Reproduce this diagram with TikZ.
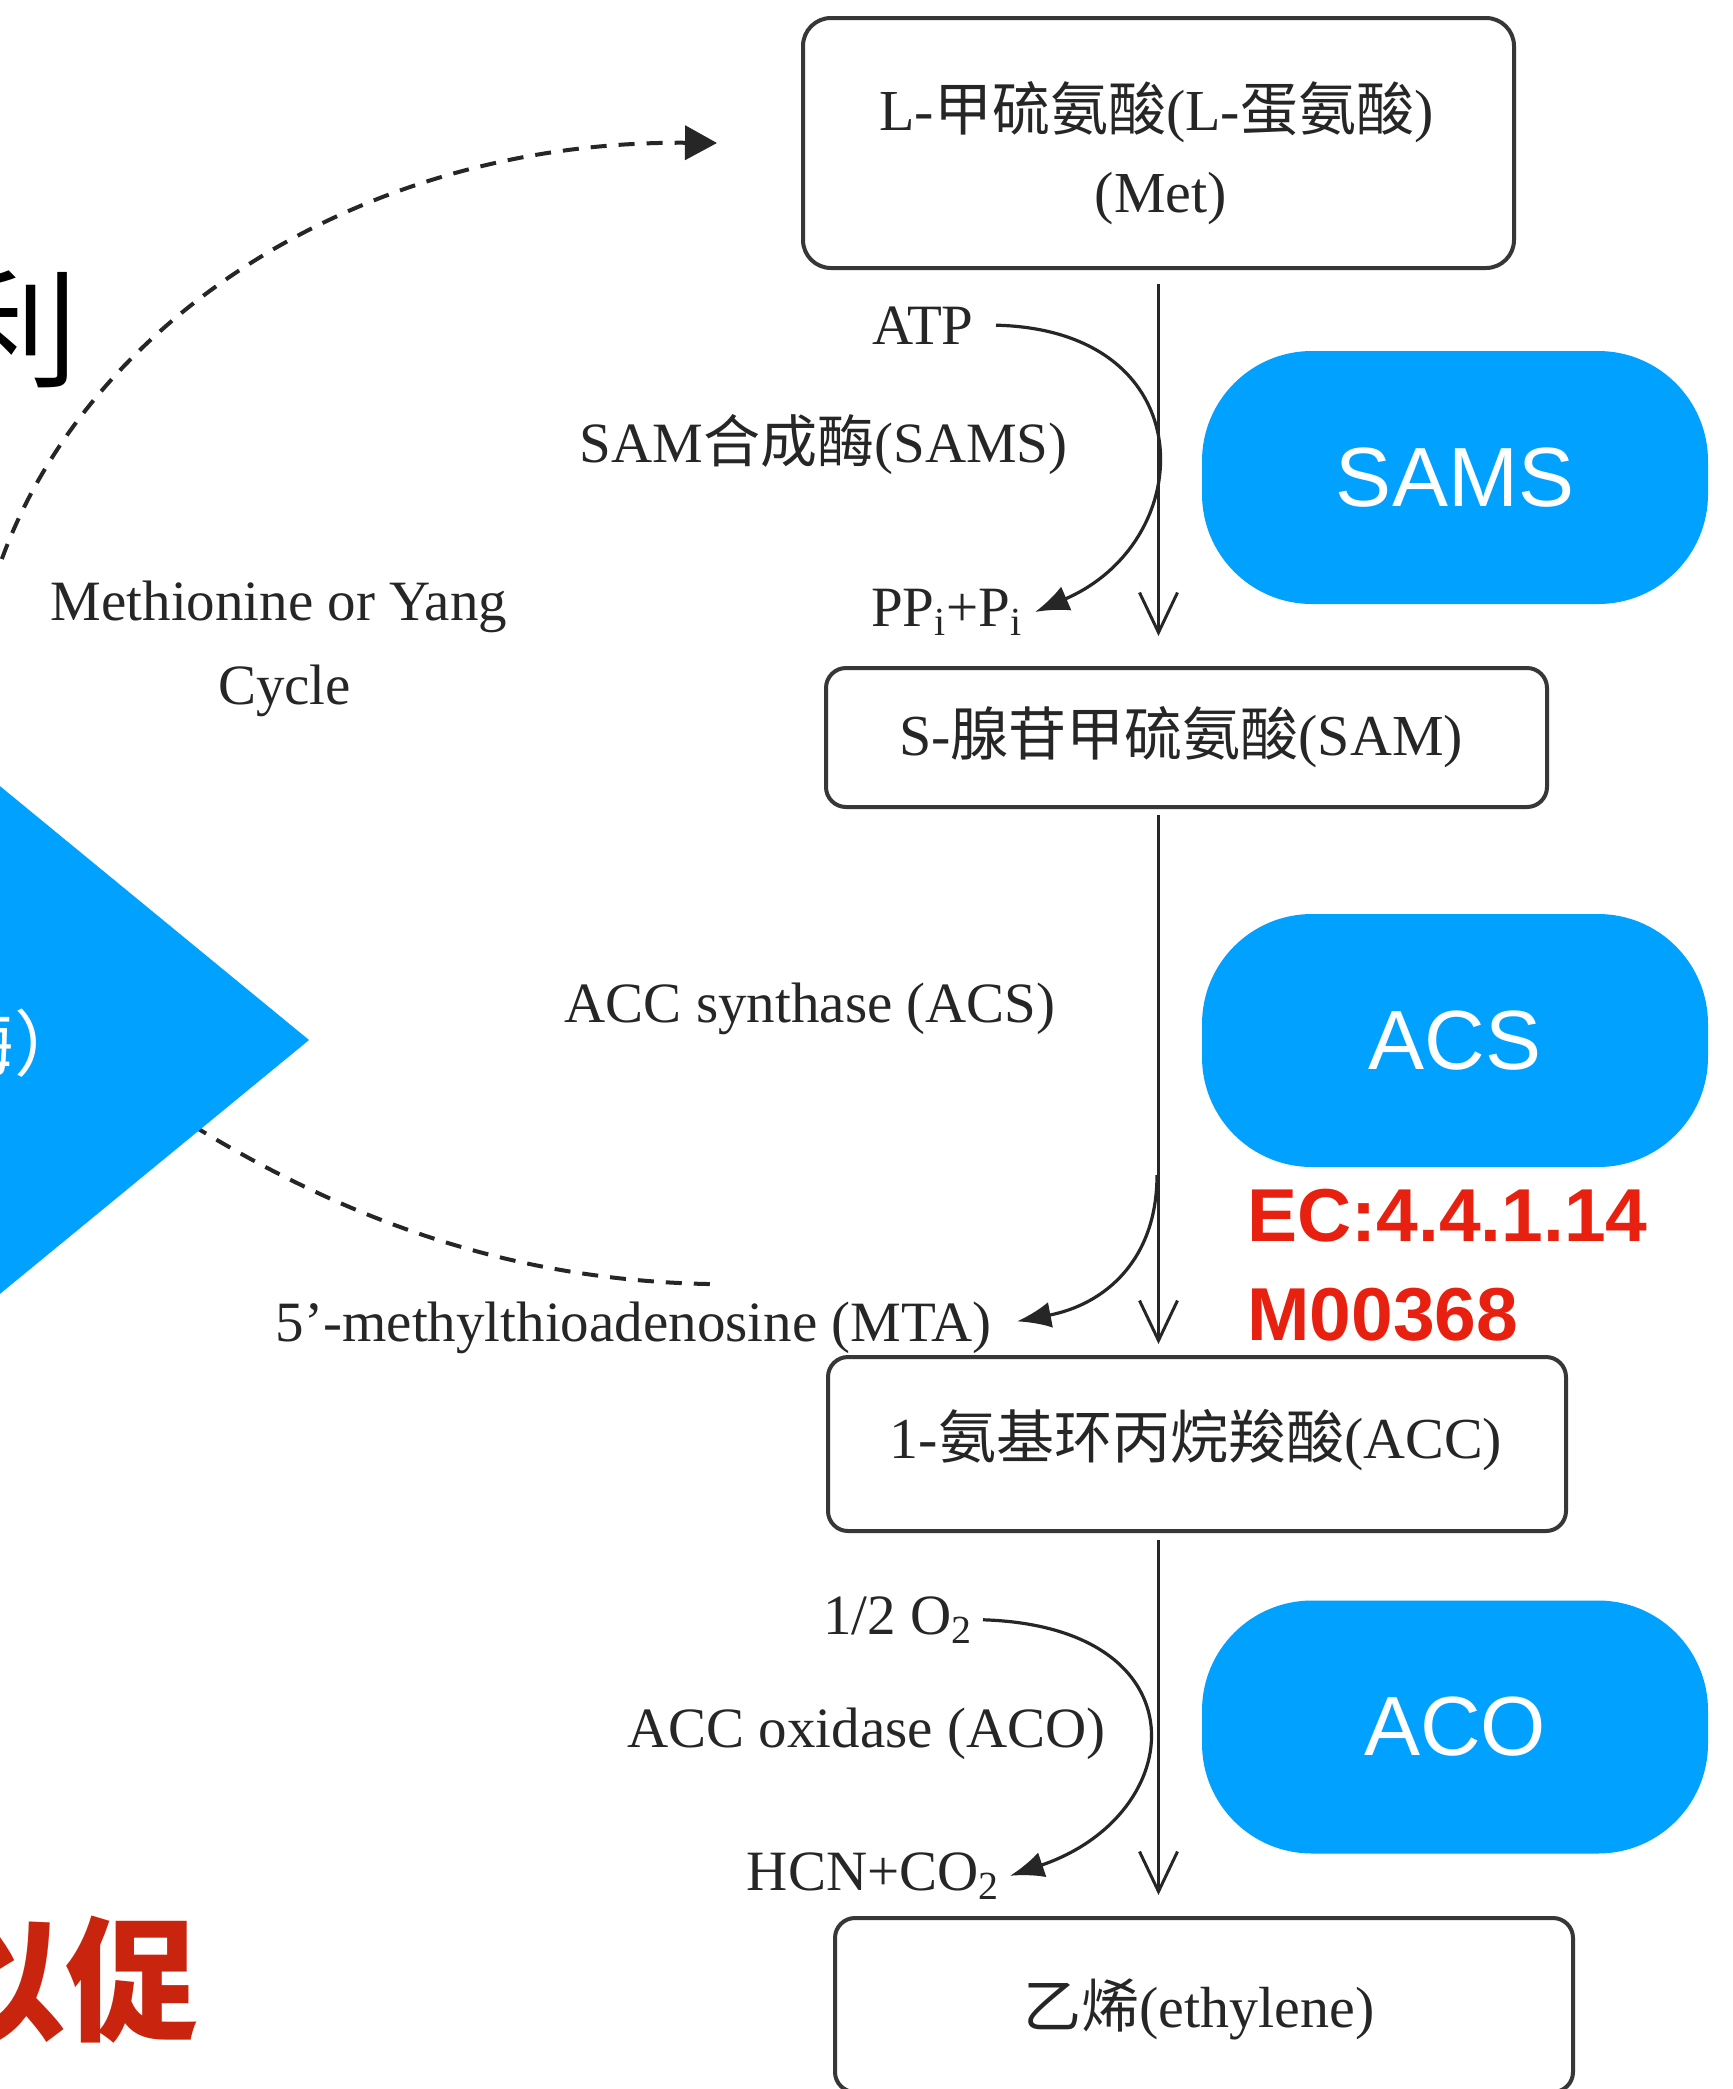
\documentclass[tikz,border=0pt]{standalone}
\usepackage{fontspec}
\setmainfont{Liberation Serif}
\newfontfamily\zhfont{Noto Sans CJK SC}
\newfontfamily\pillfont{Liberation Sans}
\usetikzlibrary{arrows.meta}
\definecolor{pillblue}{RGB}{0,161,255}
\definecolor{ecred}{RGB}{232,32,16}
\definecolor{darkred}{RGB}{200,36,14}
\definecolor{ink}{RGB}{38,38,38}
\definecolor{boxline}{RGB}{55,55,55}
\newcommand\zh[1]{{\zhfont #1}}
\begin{document}
\begin{tikzpicture}[x=0.5pt,y=-0.5pt,
  box/.style={draw=boxline, line width=2pt, rounded corners=10pt, inner sep=0pt},
  pill/.style={fill=pillblue, rounded corners=55pt, minimum width=253pt, minimum height=126.5pt,
    text=white, font=\pillfont\fontsize{42pt}{48pt}\selectfont, inner sep=0pt},
  lbl/.style={inner sep=0pt, text=ink, font=\fontsize{28.5pt}{34pt}\selectfont},
  boxtext/.style={inner sep=0pt, text=ink, font=\fontsize{29pt}{34pt}\selectfont, anchor=base},
  ectext/.style={inner sep=0pt, text=ecred, font=\pillfont\bfseries\fontsize{37.5pt}{42pt}\selectfont, anchor=base west},
  mainarrow/.style={draw=ink, line width=1.5pt, -{Straight Barb[length=20pt,width=19pt]}},
  sidearrow/.style={draw=ink, line width=1.6pt, -{Latex[length=17pt,width=13pt]}},
  cycleline/.style={draw=ink, line width=2pt, dash pattern=on 8pt off 6pt},
  bigzh/.style={inner sep=0pt, anchor=east},
]
\path[use as bounding box] (0,0) rectangle (1733,2089);
\fill[white] (0,0) rectangle (1733,2089);
\clip (0,0) rectangle (1733,2089);

% boxes
\node[box, rounded corners=14pt, minimum width=355.5pt, minimum height=125pt] (met) at (1158.5,143) {};
\node[boxtext] (metA) at (1156.5,130) {L-\zh{甲硫氨酸}(L-\zh{蛋氨酸})};
\node[boxtext] (metB) at (1161,212) {(Met)};
\node[box, minimum width=360.5pt, minimum height=69.5pt] (sam) at (1186.5,737.5) {};
\node[boxtext] (samT) at (1181,755) {S-\zh{腺苷甲硫氨酸}(SAM)};
\node[box, minimum width=369pt, minimum height=87pt] (acc) at (1197,1444) {};
\node[boxtext] (accT) at (1196,1458) {1-\zh{氨基环丙烷羧酸}(ACC)};
\node[box, minimum width=369pt, minimum height=87pt] (eth) at (1204,2005) {};
\node[boxtext] (ethT) at (1199,2027) {\zh{乙烯}(ethylene)};

% pills
\node[pill] (sams) at (1455,477.5) {SAMS};
\node[pill] (acs) at (1455,1040.5) {ACS};
\node[pill] (aco) at (1455,1727) {ACO};
\node[ectext] (ec) at (1247,1241) {EC:4.4.1.14};
\node[ectext] (mod) at (1247,1340) {M00368};

% labels
\node[lbl, anchor=base east] (atp) at (974,344) {ATP};
\node[lbl, anchor=base east] (samsl) at (1068,462) {SAM\zh{合成酶}(SAMS)};
\node[lbl, anchor=base east] (ppi) at (1023,626) {PP\textsubscript{i}+P\textsubscript{i}};
\node[lbl, anchor=base] (yang1) at (279,620) {Methionine or Yang};
\node[lbl, anchor=base] (yang2) at (284.5,704) {Cycle};
\node[lbl, anchor=base east] (acsl) at (1056,1022) {ACC synthase (ACS)};
\node[lbl, anchor=base east] (mta) at (992,1341) {5’-methylthioadenosine (MTA)};
\node[lbl, anchor=base east] (o2) at (973,1634) {1/2 O\textsubscript{2}};
\node[lbl, anchor=base east] (acol) at (1106,1747) {ACC oxidase (ACO)};
\node[lbl, anchor=base east] (hcn) at (1000,1890) {HCN+CO\textsubscript{2}};

% main arrows
\draw[mainarrow, shorten <=7pt, shorten >=15pt] (met.south) -- (met.south |- sam.north);
\draw[mainarrow, shorten <=3pt, shorten >=5.5pt] (sam.south -| met.south) -- (acc.north -| met.south);
\draw[mainarrow, shorten <=3.5pt, shorten >=10.5pt] (acc.south -| met.south) -- (eth.north -| met.south);

% side arrows
\draw[sidearrow] ([xshift=11pt]atp.east) .. controls +(209,5) and +(165,-71) .. ([xshift=6pt]ppi.east);
\coordinate (acsfrom) at (1157,1175);
\draw[sidearrow] (acsfrom) .. controls +(0,85) and +(88,-17) .. ([xshift=12.5pt,yshift=3pt]mta.east);
\draw[sidearrow] ([xshift=5pt]o2.east) .. controls +(222,7) and +(180,-61) .. ([xshift=5pt]hcn.east);

% cycle dashed lines
\coordinate (cyclein) at (-20,640);
\draw[cycleline, -{Triangle[length=16pt,width=17pt]}] (cyclein) .. controls +(50,-280) and +(-389,-3) .. ([xshift=-42pt]met.west);
\coordinate (cycleout) at (40,1020);
\draw[cycleline] ([shift={(76,-17)}]mta.north) .. controls +(-258,-5) and +(210,160) .. (cycleout);

% left overlay fragments
\fill[pillblue] (309,1040) -- (-100,704) -- (-100,1376) -- cycle;
\node[inner sep=0pt, anchor=west, text=white, font=\zhfont\fontsize{36pt}{40pt}\selectfont] (dtext) at (-58,1043) {酶）};
\node[bigzh, font=\zhfont\fontsize{64pt}{70pt}\selectfont] (li) at (79,329) {利};
\node[bigzh, text=darkred, font=\zhfont\bfseries\fontsize{67pt}{72pt}\selectfont] (yc) at (200,1980) {以促};
\end{tikzpicture}
\end{document}
